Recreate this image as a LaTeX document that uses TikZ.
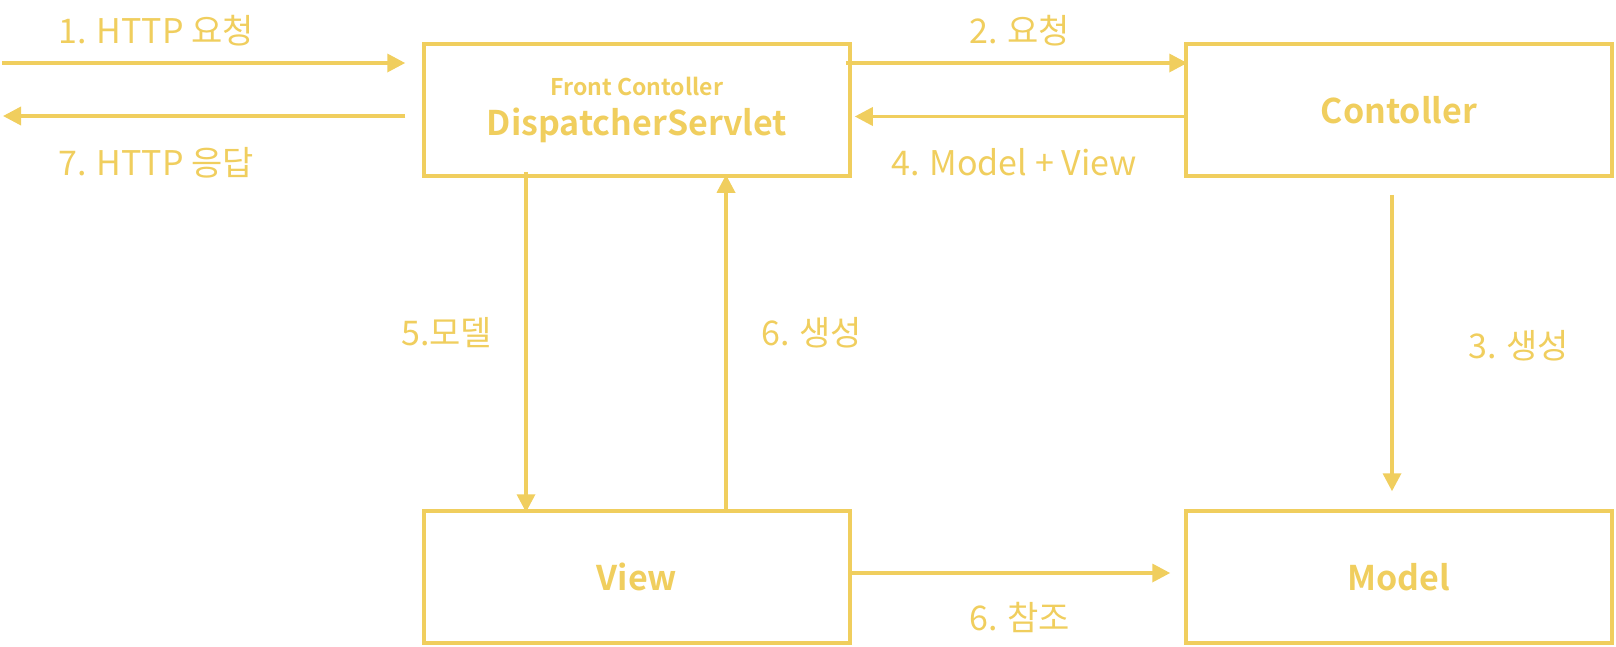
\documentclass[tikz,border=0pt]{standalone}
\usepackage{fontspec}
\setmainfont{Noto Sans CJK KR}[BoldFont={* Bold}]
\usetikzlibrary{arrows.meta}
\definecolor{mvcyellow}{RGB}{240,206,94}

\begin{document}
\begin{tikzpicture}[
  x=1pt,
  y=-1pt,
  component box/.style={
    draw=mvcyellow,
    line width=3.5pt,
    minimum width=426pt,
    minimum height=132pt,
    inner sep=0pt,
    align=center,
    text=mvcyellow,
    font=\fontsize{34}{40}\selectfont\bfseries
  },
  flow/.style={
    draw=mvcyellow,
    line width=3.5pt,
    -{Triangle[length=18pt,width=18pt]}
  },
  step label/.style={
    anchor=base west,
    inner sep=0pt,
    text=mvcyellow,
    font=\fontsize{34}{40}\selectfont
  }
]
  \useasboundingbox (0,0) rectangle (1616,646);

  % components
  \node[component box] (dispatcher) at (637,110)
    {{\fontsize{23}{28}\selectfont Front Contoller}\\DispatcherServlet};
  \node[component box] (controller) at (1399,110) {Contoller};
  \node[component box] (view) at (637,577) {View};
  \node[component box] (model) at (1399,577) {Model};

  % rows and columns the arrows run on
  \coordinate (row request) at (0,63);
  \coordinate (row reply) at (0,116.5);
  \coordinate (client in) at (2,63);
  \coordinate (client out) at (3,116);
  \coordinate (col model) at (526,0);
  \coordinate (col render) at (726,0);
  \coordinate (col create) at (1392,0);
  \coordinate (row refer) at (0,573);

  \draw[flow, shorten >=17pt] (client in) -- (client in -| dispatcher.west);
  \draw[flow, shorten <=17pt] (client out -| dispatcher.west) -- (client out);
  \draw[flow, shorten <=-6pt, shorten >=-3pt] (row request -| dispatcher.east) -- (row request -| controller.west);
  \draw[flow, shorten >=3pt] (row reply -| controller.west) -- (row reply -| dispatcher.east);
  \draw[flow, shorten <=-6pt, shorten >=-3pt] (col model |- dispatcher.south) -- (col model |- view.north);
  \draw[flow, shorten >=-3pt] (col render |- view.north) -- (col render |- dispatcher.south);
  \draw[flow, shorten <=17pt, shorten >=18pt] (col create |- controller.south) -- (col create |- model.north);
  \draw[flow, shorten >=14pt] (row refer -| view.east) -- (row refer -| model.west);

  % step labels
  \node[step label] (l1) at (58,43) {1. HTTP 요청};
  \node[step label] (l7) at (58,175) {7. HTTP 응답};
  \node[step label] (l2) at (969,43) {2. 요청};
  \node[step label] (l4) at (891,175) {4. Model + View};
  \node[step label] (l5) at (401,345) {5.모델};
  \node[step label] (l6a) at (761,345) {6. 생성};
  \node[step label] (l3) at (1468,358) {3. 생성};
  \node[step label] (l6b) at (969,630) {6. 참조};
\end{tikzpicture}
\end{document}
